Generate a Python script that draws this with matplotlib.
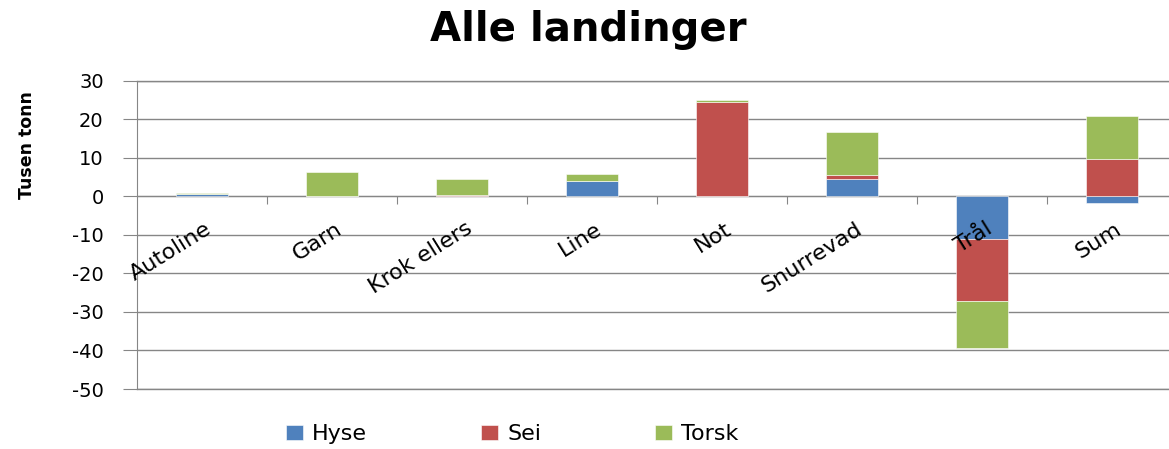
import numpy as np
import matplotlib
matplotlib.use("Agg")
import matplotlib.pyplot as plt
from matplotlib.ticker import FixedLocator

plt.rcParams["axes.unicode_minus"] = False

categories = ["Autoline", "Garn", "Krok ellers", "Line", "Not", "Snurrevad", "Trål", "Sum"]
hyse = [0.7, 0.0, 0.0, 3.9, 0.0, 4.5, -11.0, -1.7]
sei = [0.0, 0.1, 0.3, 0.0, 24.6, 1.1, -16.1, 9.6]
torsk = [0.2, 6.3, 4.2, 2.0, 0.4, 11.2, -12.3, 11.2]

series = [("Hyse", hyse, "#4F81BD"), ("Sei", sei, "#C0504D"), ("Torsk", torsk, "#9BBB59")]
grid_col = "#868686"

fig = plt.figure(figsize=(11.69, 4.49), dpi=100)
ax = fig.add_axes([137 / 1169, 1 - 389 / 449, 1040 / 1169, (389 - 80.7) / 449])

x = np.arange(len(categories))
pos_base = np.zeros(len(categories))
neg_base = np.zeros(len(categories))
for name, vals, color in series:
    v = np.array(vals)
    bottom = np.where(v >= 0, pos_base, neg_base)
    ax.bar(x, v, width=0.4, bottom=bottom, color=color, label=name,
           edgecolor="white", linewidth=0.4, zorder=3)
    pos_base = pos_base + np.where(v > 0, v, 0)
    neg_base = neg_base + np.where(v < 0, v, 0)

ax.set_xlim(-0.5, len(categories) - 0.5)
ax.set_ylim(-50, 30)
ax.set_yticks(range(-50, 31, 10))
ax.grid(axis="y", color=grid_col, linewidth=1.0, zorder=0)
ax.axhline(-50, color=grid_col, linewidth=1.0, clip_on=False, zorder=0)
ax.axhline(30, color=grid_col, linewidth=1.0, clip_on=False, zorder=0)
ax.tick_params(axis="y", length=10, color=grid_col, labelsize=14, pad=14)

# x axis at zero, tick marks between categories
ax.spines["bottom"].set_position(("data", 0))
ax.spines["bottom"].set_color(grid_col)
ax.spines["left"].set_color(grid_col)
ax.spines["top"].set_visible(False)
ax.spines["right"].set_visible(False)
ax.xaxis.set_major_locator(FixedLocator(x[:-1] + 0.5))
ax.set_xticklabels([])
ax.tick_params(axis="x", which="major", length=6, color=grid_col, direction="out")

# category labels drawn on top of the bars
for xi, lab in zip(x, categories):
    ax.annotate(lab, xy=(xi, 0), xytext=(2, -16), textcoords="offset points",
                rotation=32, ha="right", va="top", rotation_mode="anchor",
                fontsize=16, zorder=5, annotation_clip=False)

fig.text(0.503, 0.933, "Alle landinger", ha="center", va="center",
         fontsize=29, fontweight="bold")
fig.text(0.023, 1 - 145 / 449, "Tusen tonn", rotation=90, ha="center", va="center",
         fontsize=12.5, fontweight="bold",
         family=["Liberation Sans Narrow", "DejaVu Sans"])

fig.legend(loc="center", bbox_to_anchor=(0.438, 0.033), ncol=3, frameon=False,
           fontsize=16, columnspacing=5.1, handlelength=0.8, handleheight=0.7,
           handletextpad=0.4)

fig.savefig("out.png", dpi=100)
